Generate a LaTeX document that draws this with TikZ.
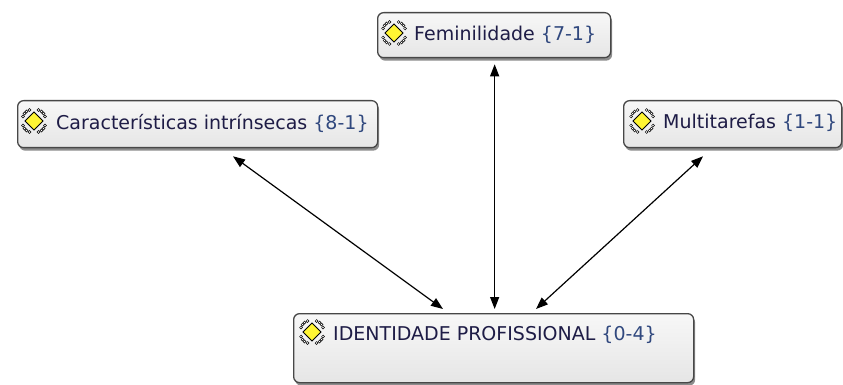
\documentclass[tikz,border=0pt]{standalone}
\usepackage{fontspec}
\setmainfont{DejaVu Sans}
\usetikzlibrary{shadows,arrows.meta,calc}
\definecolor{txtc}{HTML}{1E1C46}
\definecolor{codec}{HTML}{30487E}
\definecolor{boxline}{HTML}{474747}
\tikzset{
  codebox/.style={draw=boxline, line width=1.3pt, rounded corners=6pt,
    top color=white!97!black, bottom color=white!90!black,
    drop shadow={shadow xshift=1.5pt, shadow yshift=-3pt, opacity=0.6, fill=black!75},
    anchor=north west, inner sep=0pt},
  codetext/.style={anchor=west, inner sep=0pt, text=txtc, font=\fontsize{19}{22}\selectfont},
  link/.style={line width=1.2pt, {Triangle[length=12pt,width=9pt]}-{Triangle[length=12pt,width=9pt]}},
  pics/codeicon/.style={code={
    \foreach \a in {1,-1}{\foreach \b in {1,-1}{
      \foreach \p/\q in {11/4.5,9.5/7.5,7.5/9.5,4.5/11}{
        \draw[black, fill=white, line width=0.5pt] (\a*\p,\b*\q) circle (1.4);
      }}}
    \draw[black, line width=1pt, fill=yellow!80!white] (0,-9) -- (9,0) -- (0,9) -- (-9,0) -- cycle;
  }}
}
\begin{document}
\begin{tikzpicture}[x=1pt,y=-1pt]
\useasboundingbox (0,0) rectangle (843,385);
% boxes
\node[codebox, minimum width=233pt, minimum height=45pt] (fem) at (377,12) {};
\node[codebox, minimum width=360pt, minimum height=47pt] (car) at (17,100) {};
\node[codebox, minimum width=218pt, minimum height=47pt] (mul) at (623,100) {};
\node[codebox, minimum width=400pt, minimum height=69pt] (idp) at (293,313) {};
% icons
\pic at (394,33) {codeicon};
\pic at (34,121) {codeicon};
\pic at (642,121) {codeicon};
\pic at (312,332) {codeicon};
% texts
\node[codetext] (femt) at (414,35) {Feminilidade \textcolor{codec}{\{7-1\}}};
\node[codetext] (cart) at (56,123) {Características intrínsecas \textcolor{codec}{\{8-1\}}};
\node[codetext] (mult) at (663,123) {Multitarefas \textcolor{codec}{\{1-1\}}};
\node[codetext] (idpt) at (333,335) {IDENTIDADE PROFISSIONAL \textcolor{codec}{\{0-4\}}};
% connector ends
\coordinate (femS) at ($(fem.south)+(0.5,6)$);
\coordinate (carS) at ($(car.south west)+(216,8)$);
\coordinate (mulS) at ($(mul.south west)+(80,8)$);
\coordinate (idpA) at ($(idp.north west)+(150,-4)$);
\coordinate (idpB) at (femS |- idpA);
\coordinate (idpC) at ($(idp.north west)+(243,-4)$);
\draw[link] (carS) -- (idpA);
\draw[link] (femS) -- (idpB);
\draw[link] (mulS) -- (idpC);
\end{tikzpicture}
\end{document}
